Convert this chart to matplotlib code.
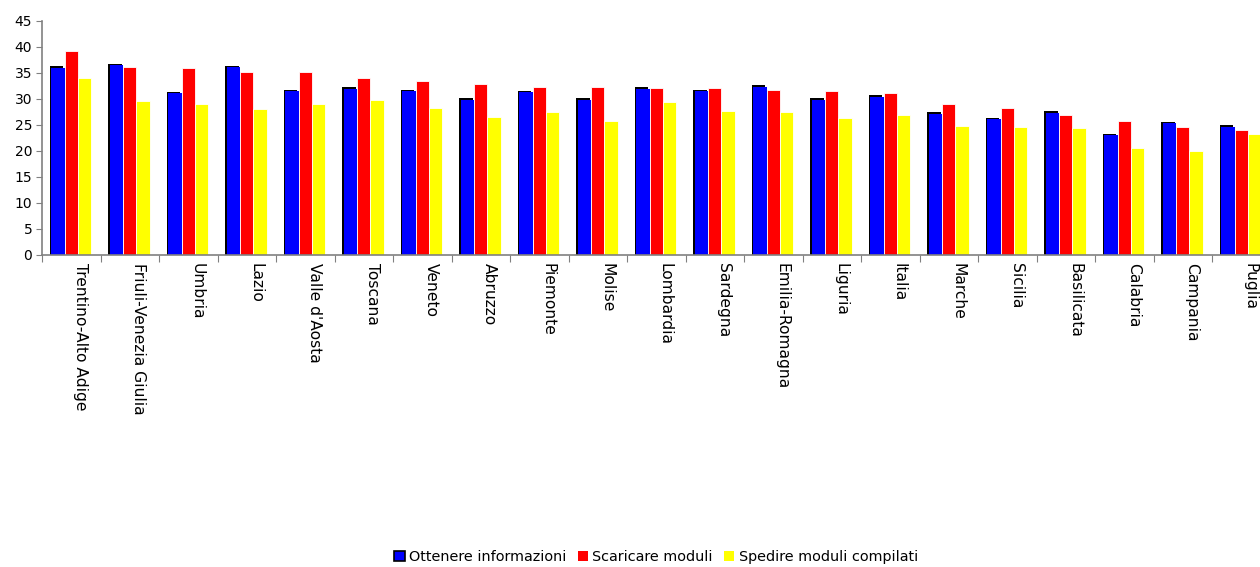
import matplotlib.pyplot as plt
import matplotlib.transforms as mtransforms
from matplotlib.patches import Patch
import numpy as np

plt.rcParams['font.family'] = ['DejaVu Sans']

regioni = ["Trentino-Alto Adige", "Friuli-Venezia Giulia", "Umbria", "Lazio",
           "Valle d'Aosta", "Toscana", "Veneto", "Abruzzo", "Piemonte", "Molise",
           "Lombardia", "Sardegna", "Emilia-Romagna", "Liguria", "Italia",
           "Marche", "Sicilia", "Basilicata", "Calabria", "Campania", "Puglia"]

informazioni = [36.0, 36.5, 31.1, 36.1, 31.5, 32.0, 31.5, 29.9, 31.3, 29.9, 32.0,
                31.5, 32.4, 29.9, 30.4, 27.2, 26.1, 27.4, 23.0, 25.3, 24.7]
scaricare = [39.2, 36.2, 36.0, 35.2, 35.2, 34.0, 33.5, 32.9, 32.3, 32.3, 32.1,
             32.1, 31.7, 31.5, 31.2, 29.0, 28.3, 26.9, 25.8, 24.6, 24.0]
spedire = [34.0, 29.6, 29.0, 28.1, 29.0, 29.8, 28.3, 26.5, 27.5, 25.8, 29.4,
           27.7, 27.5, 26.3, 26.9, 24.8, 24.6, 24.4, 20.6, 20.0, 23.3]

fig = plt.figure(figsize=(12.6, 5.67), dpi=100)
# plot area runs slightly past the right edge of the image
ax = fig.add_axes([42 / 1260, 312 / 567, 1228.5 / 1260, 234 / 567])

x = np.arange(len(regioni))
w = 0.228
blu = np.array(informazioni)

# blue bars get a dark edge on the left and top
ax.bar(x - w - 0.026, blu + 0.3, w, color='black', zorder=0.9)
ax.bar(x - w, blu, w, color='#0000FF', zorder=1)
ax.bar(x, scaricare, w, color='#FF0000', edgecolor='white', linewidth=0.6, zorder=1)
ax.bar(x + w, spedire, w, color='#FFFF00', edgecolor='white', linewidth=0.6, zorder=1)

ax.set_xlim(-0.5, len(regioni) - 0.5)
ax.set_ylim(0, 45)
ax.set_yticks(range(0, 46, 5))

for s in ['top', 'right']:
    ax.spines[s].set_visible(False)
for s in ['left', 'bottom']:
    ax.spines[s].set_color('#808080')
    ax.spines[s].set_linewidth(1.2)
    ax.spines[s].set_zorder(3)

ax.tick_params(axis='y', direction='out', length=4, color='#808080',
               labelsize=10, pad=3)
ax.set_xticks(np.arange(-0.5, len(regioni) - 0.5, 1))
ax.set_xticks(x, minor=True)
ax.set_xticklabels([])
ax.set_xticklabels(regioni, minor=True, rotation=-90, fontsize=11.2)
ax.tick_params(axis='x', which='major', direction='out', length=5, color='#808080')
ax.tick_params(axis='x', which='minor', length=0, pad=6)
shift = mtransforms.ScaledTranslation(9 / 100, 0, fig.dpi_scale_trans)
for lab in ax.get_xticklabels(minor=True):
    lab.set_va('top')
    lab.set_transform(lab.get_transform() + shift)

handles = [Patch(facecolor='#0000FF', edgecolor='black', linewidth=1.2),
           Patch(facecolor='#FF0000', edgecolor='none'),
           Patch(facecolor='#FFFF00', edgecolor='none')]
ax.legend(handles, ["Ottenere informazioni", "Scaricare moduli", "Spedire moduli compilati"],
          loc='center', bbox_to_anchor=(0.5, -1.29), ncol=3, frameon=False,
          fontsize=10.4, handlelength=0.7, handleheight=0.7, handletextpad=0.3,
          columnspacing=0.8)

fig.savefig('out.png', dpi=100)
